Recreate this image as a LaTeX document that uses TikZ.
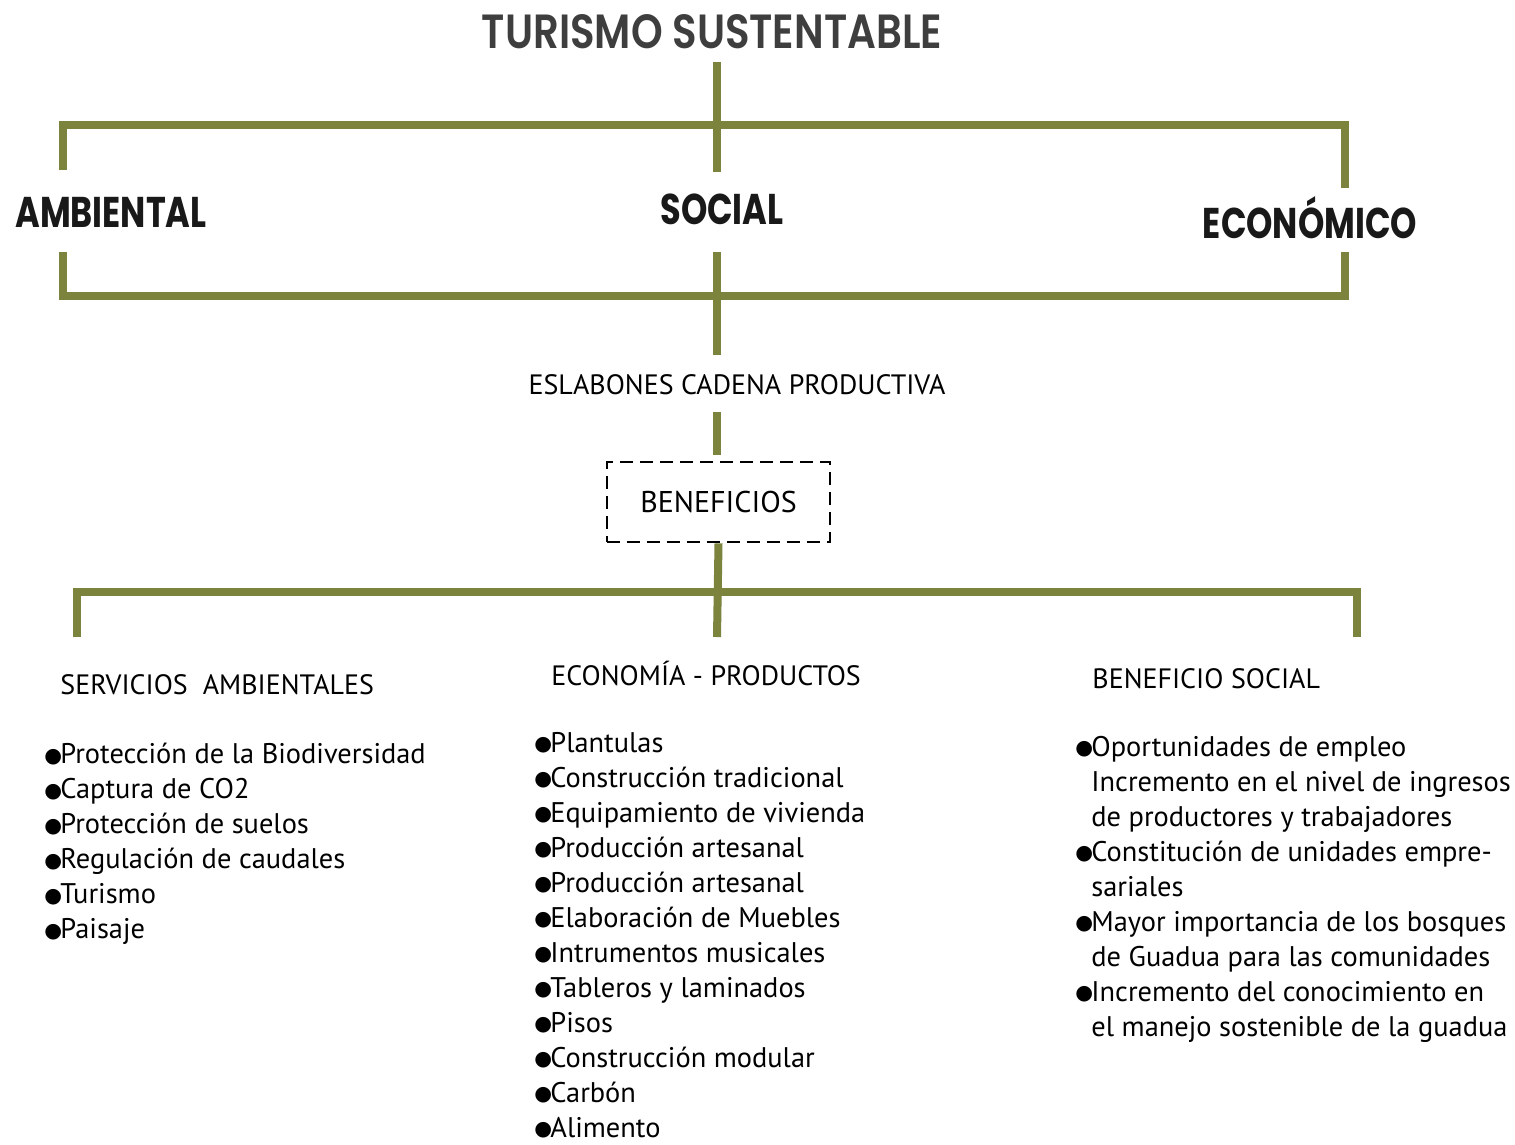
\documentclass[tikz,border=0pt]{standalone}
\usepackage{fontspec}
\setmainfont{PT Sans}
\newfontfamily\headfont{Poppins}[FakeStretch=0.78]
\newfontfamily\titlefont{Poppins SemiBold}[FakeStretch=0.84]
\newfontfamily\symfont{DejaVu Sans}
\usetikzlibrary{positioning}
\definecolor{guadua}{RGB}{123,131,61}
\definecolor{grisTitulo}{RGB}{62,62,62}
\newcommand{\bul}{\raisebox{0.9pt}{\symfont\fontsize{10.2}{10}\selectfont ●}\kern-0.9pt}
\tikzset{%
  % Specifications for style of lines and nodes:
         rama/.style = {draw=guadua, line width=4pt},
    dimension/.style = {inner sep=0pt, anchor=base, text=black!90,
                        font=\headfont\bfseries\fontsize{21.5}{24}\selectfont},
       header/.style = {inner sep=0pt, anchor=base west,
                        font=\fontsize{14}{17.6}\selectfont},
        lista/.style = {inner sep=0pt, anchor=north west, align=left,
                        font=\fontsize{14.2}{17.5}\selectfont},
}

\begin{document}
\begin{tikzpicture}[x=0.5pt, y=-0.5pt]
\useasboundingbox (0,0) rectangle (1515,1145);

\node (titulo)     [dimension, text=grisTitulo,
                    font=\titlefont\fontsize{24}{28}\selectfont] at (712,49) {TURISMO SUSTENTABLE};
\node (ambiental)  [dimension] at (111,227)  {AMBIENTAL};
\node (social)     [dimension] at (722,224)  {SOCIAL};
\node (economico)  [dimension] at (1310,238) {ECONÓMICO};

\node (eslabones)  [header, anchor=base] at (737,394) {ESLABONES CADENA PRODUCTIVA};

\node (beneficios) [draw, line width=1.4pt, dash pattern=on 6.5pt off 3.5pt,
                    minimum width=111.5pt, minimum height=40pt,
                    font=\fontsize{15}{18}\selectfont] at (718.5,502) {BENEFICIOS};

\node (servicios)  [header] at (60,694)   {SERVICIOS\ \ AMBIENTALES};
\node (economia)   [header] at (551,685)  {ECONOMÍA - PRODUCTOS};
\node (bsocial)    [header] at (1092,688) {BENEFICIO SOCIAL};

\node (listaAmb)   [lista] at (44,743) {\bul Protección de la Biodiversidad\\
  \bul Captura de CO2\\ \bul Protección de suelos\\ \bul Regulación de caudales\\
  \bul Turismo\\ \bul Paisaje};

\node (listaEco)   [lista] at (534,732) {\bul Plantulas\\ \bul Construcción tradicional\\
  \bul Equipamiento de vivienda\\ \bul Producción artesanal\\ \bul Producción artesanal\\
  \bul Elaboración de Muebles\\ \bul Intrumentos musicales\\ \bul Tableros y laminados\\
  \bul Pisos\\ \bul Construcción modular\\ \bul Carbón\\ \bul Alimento};

\node (listaSoc)   [lista] at (1075,736) {\bul Oportunidades de empleo\\
  \phantom{\bul}Incremento en el nivel de ingresos\\
  \phantom{\bul}de productores y trabajadores\\
  \bul Constitución de unidades empre-\\ \phantom{\bul}sariales\\
  \bul Mayor importancia de los bosques\\
  \phantom{\bul}de Guadua para las comunidades\\
  \bul Incremento del conocimiento en\\
  \phantom{\bul}el manejo sostenible de la guadua};

% bracket corners
\coordinate (tituloPie)  at (717,62);
\coordinate (cruceA)     at (717,172);
\coordinate (ambArriba)  at (63,170);
\coordinate (ecoArriba)  at (1345,188);
\coordinate (ambAbajo)   at (63,252);
\coordinate (socAbajo)   at (717,252);
\coordinate (ecoAbajo)   at (1345,252);
\coordinate (eslArriba)  at (717,355);
\coordinate (eslAbajo)   at (717,412);
\coordinate (benArriba)  at (717,462);
\coordinate (benRama)    at (717,637);
\coordinate (servRama)   at (77,637);
\coordinate (socRama)    at (1357,637);

\draw[rama]   (tituloPie) -- (cruceA);
\draw[rama]   (ambArriba) |- (ecoArriba |- 0,125) -- (ecoArriba);
\draw[rama]   (ambAbajo) |- (ecoAbajo |- 0,296) -- (ecoAbajo);
\draw[rama]   (socAbajo) -- (eslArriba);
\draw[rama]   (eslAbajo) -- (benArriba |- 0,455);
\draw[rama]   (beneficios.south) -- (benRama);
\draw[rama]   (servRama) |- (socRama |- 0,592) -- (socRama);
\end{tikzpicture}
\end{document}
